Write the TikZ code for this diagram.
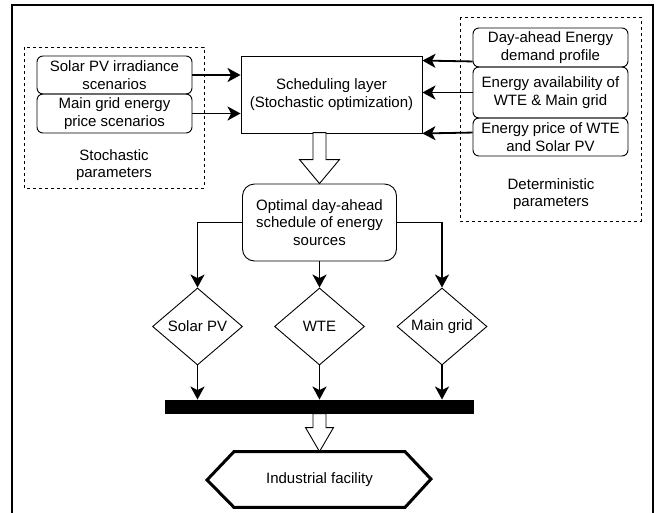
\documentclass[tikz,border=0pt]{standalone}
\usepackage{fontspec}
\setmainfont{Liberation Sans}
\usetikzlibrary{shapes.geometric,arrows.meta}
\begin{document}
\begin{tikzpicture}[x=1pt,y=-1pt,
  font=\fontsize{15}{17.5}\selectfont,
  every node/.style={line width=0.9pt},
  inbox/.style={draw,rounded corners=6pt,minimum width=155pt,align=center,inner sep=0pt},
  dbox/.style={line width=0.9pt,dash pattern=on 3pt off 3pt},
  arr/.style={line width=1.8pt,-{Stealth[length=13pt,width=14pt,inset=3.5pt]}},
  choice/.style={draw,diamond,aspect=1.17,minimum width=90pt,minimum height=77pt,inner sep=0pt},
  hollow/.style={draw,line width=0.9pt,fill=white}]
\useasboundingbox (0,0) rectangle (662,512);
\draw[line width=1.3pt] (12,5) rectangle (653,515);
\draw[dbox] (24,47) rectangle (204,188);
\draw[dbox] (460,17) rectangle (641,221);
\node[inbox,minimum height=38pt] (solar) at(114.5,75) {Solar PV irradiance\\scenarios};
\node[inbox,minimum height=39pt] (mgprice) at(114.5,113.5) {Main grid energy\\price scenarios};
\node[align=center] (stoch) at(114,165) {Stochastic\\parameters};
\node[draw,minimum width=181pt,minimum height=77pt,align=center] (sched) at(331.5,94.5) {Scheduling layer\\(Stochastic optimization)};
\node[inbox,minimum height=39pt] (demand) at(550.5,47.5) {Day-ahead Energy\\demand profile};
\node[inbox,minimum height=51pt] (avail) at(550.5,92.5) {Energy availability of\\WTE \& Main grid};
\node[inbox,minimum height=38pt] (cost) at(550.5,137) {Energy price of WTE\\and Solar PV};
\node[align=center] (determ) at(551,194) {Deterministic\\parameters};
\node[draw,rounded corners=12pt,minimum width=154pt,minimum height=77pt,align=center] (opt) at(319.5,222.5) {Optimal day-ahead\\schedule of energy\\sources};
\node[choice] (pv) at(197.5,326.5) {Solar PV};
\node[choice] (wte) at(319.5,326.5) {WTE};
\node[choice] (grid) at(442,326.5) {Main grid};
\node[fill,minimum width=309pt,minimum height=14pt,inner sep=0pt] (bus) at(319.5,407) {};
\node[minimum width=170pt,minimum height=55pt,inner sep=0pt] (plant) at(319.5,479.5) {Industrial facility};
\draw[line width=3pt] (plant.north west) -- (plant.north east) -- ++(26,27.5) -- (plant.south east) -- (plant.south west) -- ++(-27,-27.5) -- cycle;
\draw[arr] (solar.east) -- (solar.east -| sched.west);
\draw[arr] (mgprice.east) -- (mgprice.east -| sched.west);
\draw[arr] ([yshift=6pt]demand.south west) -- ([yshift=-5pt]sched.north east);
\draw[arr] (avail.west) -- (avail.west -| sched.east);
\draw[arr] ([yshift=-15pt]cost.north west) -- (sched.south east);
\draw[hollow] (opt.north) -- ++(-20,-24) -- ++(13.5,0) -- ++(0,-27) -- ++(13,0) -- ++(0,27) -- ++(13.5,0) -- cycle;
\draw[arr] (opt.west) -| (pv.north);
\draw[arr] (opt.south) -- (wte.north);
\draw[arr] (opt.east) -| (grid.north);
\foreach \n in {pv,wte,grid}
  \draw[arr] (\n.south) -- (\n.south |- bus.north);
\draw[hollow] (plant.north) -- ++(-14,-24) -- ++(7.5,0) -- ++(0,-14) -- ++(13,0) -- ++(0,14) -- ++(7.5,0) -- cycle;
\end{tikzpicture}
\end{document}
